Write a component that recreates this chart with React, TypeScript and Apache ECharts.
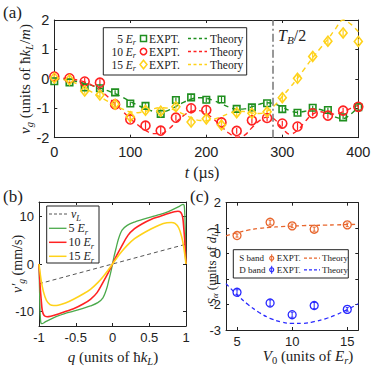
import React, { useEffect, useRef } from 'react';
import * as echarts from 'echarts';

// ---------- Panel (a): group velocity vs time ----------
const tExpt = [0, 20, 40, 60, 80, 100, 120, 140, 160, 180, 200, 220, 240, 260, 280, 300, 320, 340, 360, 380, 400];
const expt5 = [-0.08, -0.12, -0.29, -0.32, -0.46, -0.84, -0.92, -1.19, -0.72, -0.63, -0.71, -0.70, -1.02, -0.97, -0.83, -1.03, -1.15, -0.98, -1.06, -1.31, -0.96];
const err5 = [0.06, 0.07, 0.07, 0.08, 0.07, 0.07, 0.09, 0.06, 0.09, 0.12, 0.08, 0.12, 0.07, 0.09, 0.07, 0.1, 0.07, 0.07, 0.08, 0.06, 0.08];
const expt10 = [0.08, 0.02, -0.09, -0.13, -0.87, -1.38, -1.59, -1.76, -1.32, -1.0, -1.06, -1.48, -1.77, -1.41, -1.33, -1.52, -1.62, -1.17, -1.25, -1.08, -0.95];
const err10 = [0.1, 0.17, 0.12, 0.12, 0.1, 0.12, 0.12, 0.12, 0.1, 0.14, 0.16, 0.12, 0.1, 0.12, 0.12, 0.1, 0.12, 0.1, 0.1, 0.1, 0.1];
const expt15 = [0.03, -0.03, -0.41, -0.55, -0.86, -1.29, -1.07, -1.1, -0.95, -1.47, -1.36, -1.57, -1.15, -1.17, -1.12, -0.64, 0.02, 0.76, 1.28, 1.56, 1.27];
const err15 = [0.1, 0.12, 0.1, 0.12, 0.1, 0.12, 0.12, 0.12, 0.12, 0.12, 0.12, 0.14, 0.12, 0.12, 0.12, 0.14, 0.12, 0.12, 0.12, 0.12, 0.1];

const tTheory = [0, 10, 20, 30, 40, 50, 60, 70, 80, 90, 100, 110, 120, 130, 140, 150, 160, 170, 180, 190, 200, 210, 220, 230, 240, 250, 260, 270, 280, 290, 300, 310, 320, 330, 340, 350, 360, 370, 380, 390, 400];
const theory5 = [0, -0.01, -0.04, -0.09, -0.16, -0.23, -0.31, -0.4, -0.5, -0.63, -0.77, -0.9, -1.01, -1.1, -1.13, -1.07, -0.94, -0.8, -0.69, -0.64, -0.66, -0.74, -0.85, -0.96, -1.03, -1.02, -0.95, -0.86, -0.81, -0.85, -0.96, -1.08, -1.14, -1.1, -1.02, -1.04, -1.15, -1.3, -1.35, -1.2, -0.95];
const theory10 = [0.02, 0.02, 0.0, -0.04, -0.11, -0.22, -0.38, -0.6, -0.85, -1.1, -1.35, -1.57, -1.75, -1.86, -1.86, -1.72, -1.48, -1.25, -1.11, -1.08, -1.18, -1.38, -1.62, -1.85, -1.98, -1.92, -1.66, -1.42, -1.3, -1.38, -1.68, -1.88, -1.75, -1.45, -1.2, -1.12, -1.17, -1.2, -1.12, -1.0, -0.9];
const theory15 = [0, -0.02, -0.07, -0.17, -0.31, -0.46, -0.61, -0.76, -0.9, -1.03, -1.12, -1.15, -1.1, -1.02, -0.98, -1.0, -1.08, -1.2, -1.32, -1.41, -1.42, -1.37, -1.28, -1.17, -1.1, -1.11, -1.16, -1.18, -1.1, -0.9, -0.6, -0.3, 0.02, 0.37, 0.72, 1.04, 1.35, 1.7, 2.0, 1.86, 1.6];
const halfBlochTime = 287;

// ---------- Panel (b): v'_g vs q ----------
const qLine = [-1, 1];
const vLine = [-4.15, 4.15];
const q5 = [-1, -0.993, -0.985, -0.975, -0.96, -0.92, -0.86, -0.76, -0.65, -0.53, -0.4, -0.3, -0.2, -0.13, -0.08, -0.05, -0.02, 0, 0.02, 0.05, 0.08, 0.13, 0.2, 0.3, 0.4, 0.53, 0.65, 0.76, 0.86, 0.92, 0.96, 0.975, 0.985, 0.993, 1];
const v5 = [0, -5.0, -10.0, -12.3, -12.5, -12.2, -11.7, -11.0, -10.4, -9.9, -9.3, -8.8, -8.1, -7.1, -5.2, -3.4, -1.5, 0, 1.5, 3.4, 5.2, 7.1, 8.1, 8.8, 9.3, 9.9, 10.4, 11.0, 11.7, 12.2, 12.5, 12.3, 10.0, 5.0, 0];
const q10 = [-1, -0.995, -0.985, -0.97, -0.955, -0.93, -0.89, -0.84, -0.76, -0.65, -0.53, -0.4, -0.3, -0.21, -0.12, -0.05, 0, 0.05, 0.12, 0.21, 0.3, 0.4, 0.53, 0.65, 0.76, 0.84, 0.89, 0.93, 0.955, 0.97, 0.985, 0.995, 1];
const v10 = [0, -1.5, -4.5, -7.5, -9.8, -10.8, -11.05, -10.95, -10.6, -10.0, -9.4, -8.4, -7.4, -6.0, -3.6, -1.6, 0, 1.6, 3.6, 6.0, 7.4, 8.4, 9.4, 10.0, 10.6, 10.95, 11.05, 10.8, 9.8, 7.5, 4.5, 1.5, 0];
const q15 = [-1, -0.97, -0.94, -0.9, -0.85, -0.8, -0.74, -0.64, -0.53, -0.4, -0.3, -0.2, -0.12, -0.06, 0, 0.06, 0.12, 0.2, 0.3, 0.4, 0.53, 0.64, 0.74, 0.8, 0.85, 0.9, 0.94, 0.97, 1];
const v15 = [0, -3.5, -5.8, -7.6, -8.5, -8.7, -8.65, -8.2, -7.4, -6.3, -5.3, -3.9, -2.5, -1.3, 0, 1.3, 2.5, 3.9, 5.3, 6.3, 7.4, 8.2, 8.65, 8.7, 8.5, 7.6, 5.8, 3.5, 0];
const vgTicks = [-10, 0, 10];

// ---------- Panel (c): S_alpha vs V0 ----------
const v0Expt = [5, 8, 10, 12, 15];
const sBand = [0.71, 1.23, 1.09, 0.96, 1.13];
const sErr = [0.06, 0.08, 0.07, 0.08, 0.07];
const dBand = [-1.52, -1.94, -2.4, -2.04, -2.19];
const dErr = [0.1, 0.12, 0.1, 0.12, 0.07];
const v0Theory = [4, 5, 6, 7, 8, 9, 10, 11, 12, 13, 14, 15, 16];
const sTheory = [0.7, 0.82, 0.92, 0.99, 1.03, 1.06, 1.08, 1.1, 1.11, 1.12, 1.13, 1.14, 1.15];
const dTheory = [-1.18, -1.62, -2.0, -2.31, -2.54, -2.68, -2.74, -2.74, -2.67, -2.56, -2.4, -2.2, -1.97];
const v0Ticks = [5, 10, 15];

const SERIF = "'Liberation Serif','Times New Roman',serif";
const SANS = "'Liberation Sans',Arial,Helvetica,sans-serif";
const INK = '#222';
const GREEN = '#1f8f1f';
const RED = '#ff2222';
const YELLOW = '#ffd21a';
const GREEN_B = '#4caa4c';
const ORANGE = '#e8672e';
const BLUE = '#2a2aff';

// axis indices: panel (a) -> 0, (b) -> 2, (c) -> 4 (odd indices are the mirrored box axes)
const AX_A = 0;
const AX_B = 2;
const AX_C = 4;

function rich(fs: number) {
  const sub = fs * 0.7;
  return {
    r: { fontFamily: SERIF, fontSize: fs, lineHeight: fs + 4, fill: INK },
    i: { fontFamily: SERIF, fontStyle: 'italic', fontSize: fs, lineHeight: fs + 4, fill: INK },
    s: { fontFamily: SERIF, fontStyle: 'italic', fontSize: sub, lineHeight: sub, verticalAlign: 'bottom', fill: INK },
    n: { fontFamily: SERIF, fontSize: sub, lineHeight: sub, verticalAlign: 'bottom', fill: INK },
  };
}

function txt(x: number, y: number, text: string, fs: number, align = 'left', rot = 0) {
  return {
    type: 'text', x, y, rotation: rot, silent: true, z: 100,
    style: { text, fontFamily: SERIF, fontSize: fs, lineHeight: fs + 4, fill: INK, align, verticalAlign: 'middle', rich: rich(fs) },
  };
}

function hline(x1: number, x2: number, y: number, color: string, dash: number[] | null, lw = 1.3) {
  return {
    type: 'line', silent: true, z: 100,
    shape: { x1, y1: y, x2, y2: y },
    style: { stroke: color, lineWidth: lw, lineDash: dash || undefined },
  };
}

function axisX(gridIndex: number, min: number, max: number, opts: any, top = false) {
  return {
    type: 'value', gridIndex, min, max, position: top ? 'top' : 'bottom',
    ...(opts.interval ? { interval: opts.interval } : {}),
    axisLine: { show: true, onZero: false, lineStyle: { color: INK, width: 1 } },
    axisTick: { show: true, inside: true, length: 3, lineStyle: { color: INK }, ...(opts.custom ? { customValues: opts.custom } : {}) },
    axisLabel: top ? { show: false } : {
      show: true, fontFamily: SANS, fontSize: opts.fs, color: INK, margin: opts.margin,
      ...(opts.custom ? { customValues: opts.custom } : {}),
    },
    splitLine: { show: false },
  };
}

function axisY(gridIndex: number, min: number, max: number, opts: any, right = false) {
  return {
    type: 'value', gridIndex, min, max, position: right ? 'right' : 'left',
    ...(opts.interval ? { interval: opts.interval } : {}),
    axisLine: { show: true, onZero: false, lineStyle: { color: INK, width: 1 } },
    axisTick: { show: true, inside: true, length: 3, lineStyle: { color: INK }, ...(opts.custom ? { customValues: opts.custom } : {}) },
    axisLabel: right ? { show: false } : {
      show: true, fontFamily: SANS, fontSize: opts.fs, color: INK, margin: opts.margin,
      ...(opts.custom ? { customValues: opts.custom } : {}),
    },
    splitLine: { show: false },
  };
}

function errSeries(ax: number, xs: number[], ys: number[], es: number[], color: string, cap: number, lw: number) {
  return {
    type: 'custom', xAxisIndex: ax, yAxisIndex: ax, coordinateSystem: 'cartesian2d', silent: true, z: 3,
    data: xs.map((x, i) => [x, ys[i], es[i]]),
    encode: { x: 0, y: 1 },
    renderItem: (_p: any, api: any) => {
      const x = api.value(0), y = api.value(1), e = api.value(2);
      const a = api.coord([x, y + e]);
      const b = api.coord([x, y - e]);
      const children: any[] = [
        { type: 'line', shape: { x1: a[0], y1: a[1], x2: b[0], y2: b[1] }, style: { stroke: color, lineWidth: lw } },
      ];
      if (cap > 0) {
        children.push({ type: 'line', shape: { x1: a[0] - cap, y1: a[1], x2: a[0] + cap, y2: a[1] }, style: { stroke: color, lineWidth: lw } });
        children.push({ type: 'line', shape: { x1: b[0] - cap, y1: b[1], x2: b[0] + cap, y2: b[1] }, style: { stroke: color, lineWidth: lw } });
      }
      return { type: 'group', children };
    },
  };
}

function scatter(ax: number, xs: number[], ys: number[], symbol: string, size: any, color: string, lw: number) {
  return {
    type: 'scatter', xAxisIndex: ax, yAxisIndex: ax, clip: false, z: 4, silent: true,
    data: xs.map((x, i) => [x, ys[i]]),
    symbol, symbolSize: size,
    itemStyle: { color: 'rgba(255,255,255,0)', borderColor: color, borderWidth: lw, opacity: 1 },
  };
}

function curve(ax: number, xs: number[], ys: number[], color: string, dash: any, lw: number, smooth: any, extra: any = {}) {
  return {
    type: 'line', xAxisIndex: ax, yAxisIndex: ax, silent: true, z: 2,
    data: xs.map((x, i) => [x, ys[i]]),
    symbol: 'none', showSymbol: false, smooth, clip: true,
    lineStyle: { color, width: lw, type: dash },
    ...extra,
  };
}

export default function App() {
  const ref = useRef<HTMLDivElement>(null);
  useEffect(() => {
    if (!ref.current) return;
    const chart = echarts.init(ref.current, null, { renderer: 'svg' });

    const gA = { left: 54.3, top: 20, width: 304, height: 117.7 };
    const gB = { left: 39, top: 202, width: 147, height: 124 };
    const gC = { left: 226, top: 202.7, width: 132.3, height: 127.3 };

    const rowsA = [38.5, 51.5, 64.5];
    const rowsB = [214, 228.3, 242.3, 256.3];
    const rowsC = [258.2, 269.8];

    const graphic: any[] = [
      // panel letters
      txt(3, 12, '{r|(a)}', 17),
      txt(3, 196, '{r|(b)}', 17),
      txt(190, 196, '{r|(c)}', 17),
      // axis titles
      txt(202, 172, '{i|t}{r| (µs)}', 16, 'center'),
      txt(25, 79, '{i|v}{s|g}{r| (units of ħ}{i|k}{s|L}{r|/}{i|m}{r|)}', 15, 'center', Math.PI / 2),
      txt(113, 357, '{i|q}{r| (units of ħ}{i|k}{s|L}{r|)}', 15, 'center'),
      txt(17, 264, '{i|v′}{s|g}{r| (mm/s)}', 14, 'center', Math.PI / 2),
      txt(308, 356, '{i|V}{n|0}{r| (units of }{i|E}{s|r}{r|)}', 15, 'center'),
      txt(211, 266, '{i|S}{s|α}{r| (units of }{i|d}{s|L}{r|)}', 13, 'center', Math.PI / 2),
      txt(278, 35, '{i|T}{s|B}{r|/2}', 16),
      // legend (a)
      { type: 'rect', silent: true, z: 90, shape: { x: 103.3, y: 27.7, width: 143.4, height: 47.3 }, style: { fill: '#fff', stroke: INK, lineWidth: 1 } },
      txt(136, rowsA[0], '{r|5 }{i|E}{s|r}', 11.5, 'right'),
      txt(136, rowsA[1], '{r|10 }{i|E}{s|r}', 11.5, 'right'),
      txt(136, rowsA[2], '{r|15 }{i|E}{s|r}', 11.5, 'right'),
      { type: 'rect', silent: true, z: 100, shape: { x: 140.5, y: rowsA[0] - 3, width: 6, height: 6 }, style: { fill: 'none', stroke: GREEN, lineWidth: 1.5 } },
      { type: 'circle', silent: true, z: 100, shape: { cx: 143.5, cy: rowsA[1], r: 3.2 }, style: { fill: 'none', stroke: RED, lineWidth: 1.5 } },
      { type: 'polygon', silent: true, z: 100, shape: { points: [[143.5, rowsA[2] - 4.3], [147, rowsA[2]], [143.5, rowsA[2] + 4.3], [140, rowsA[2]]] }, style: { fill: 'none', stroke: YELLOW, lineWidth: 1.5 } },
      txt(149, rowsA[0], '{r|EXPT.}', 11.5),
      txt(149, rowsA[1], '{r|EXPT.}', 11.5),
      txt(149, rowsA[2], '{r|EXPT.}', 11.5),
      hline(188, 207, rowsA[0], GREEN, [3, 2.5]),
      hline(188, 207, rowsA[1], RED, [3, 2.5]),
      hline(188, 207, rowsA[2], YELLOW, [3, 2.5]),
      txt(210, rowsA[0], '{r|Theory}', 11.5),
      txt(210, rowsA[1], '{r|Theory}', 11.5),
      txt(210, rowsA[2], '{r|Theory}', 11.5),
      // legend (b)
      { type: 'rect', silent: true, z: 90, shape: { x: 46.7, y: 206, width: 52.3, height: 57 }, style: { fill: '#fff', stroke: INK, lineWidth: 1 } },
      hline(49, 67, rowsB[0], '#555', [3, 2], 1),
      hline(49, 66.5, rowsB[1], GREEN_B, null, 1.3),
      hline(49, 66.5, rowsB[2], RED, null, 1.5),
      hline(49, 66.5, rowsB[3], YELLOW, null, 1.5),
      txt(71, rowsB[0], '{i|v}{s|L}', 12),
      txt(68.5, rowsB[1], '{r|5 }{i|E}{s|r}', 12),
      txt(68.5, rowsB[2], '{r|10 }{i|E}{s|r}', 12),
      txt(68.5, rowsB[3], '{r|15 }{i|E}{s|r}', 12),
      // legend (c)
      { type: 'rect', silent: true, z: 90, shape: { x: 233.3, y: 249.7, width: 115, height: 28.3 }, style: { fill: '#fff', stroke: INK, lineWidth: 1 } },
      txt(239.3, rowsC[0], '{r|S band}', 9),
      txt(239.3, rowsC[1], '{r|D band}', 9),
      { type: 'line', silent: true, z: 100, shape: { x1: 271.7, y1: rowsC[0] - 4, x2: 271.7, y2: rowsC[0] + 4 }, style: { stroke: ORANGE, lineWidth: 1 } },
      { type: 'circle', silent: true, z: 100, shape: { cx: 271.7, cy: rowsC[0], r: 2 }, style: { fill: 'none', stroke: ORANGE, lineWidth: 1.2 } },
      { type: 'line', silent: true, z: 100, shape: { x1: 271.7, y1: rowsC[1] - 4, x2: 271.7, y2: rowsC[1] + 4 }, style: { stroke: BLUE, lineWidth: 1 } },
      { type: 'circle', silent: true, z: 100, shape: { cx: 271.7, cy: rowsC[1], r: 2 }, style: { fill: 'none', stroke: BLUE, lineWidth: 1.2 } },
      txt(276.7, rowsC[0], '{r|EXPT.}', 9),
      txt(276.7, rowsC[1], '{r|EXPT.}', 9),
      hline(304, 320, rowsC[0], ORANGE, [3, 2], 1.2),
      hline(304, 320, rowsC[1], BLUE, [3, 2], 1.2),
      txt(322, rowsC[0], '{r|Theory}', 9),
      txt(322, rowsC[1], '{r|Theory}', 9),
    ];

    const option: any = {
      animation: false,
      backgroundColor: '#fff',
      textStyle: { fontFamily: SANS },
      grid: [
        { ...gA, outerBoundsMode: 'none' },
        { ...gB, outerBoundsMode: 'none' },
        { ...gC, outerBoundsMode: 'none' },
      ],
      xAxis: [
        axisX(0, 0, 400, { interval: 100, fs: 14.5, margin: 7 }),
        axisX(0, 0, 400, { interval: 100 }, true),
        axisX(1, -1, 1, { interval: 0.5, fs: 13, margin: 5 }),
        axisX(1, -1, 1, { interval: 0.5 }, true),
        axisX(2, 4, 16, { custom: v0Ticks, fs: 13, margin: 5 }),
        axisX(2, 4, 16, { custom: v0Ticks }, true),
      ],
      yAxis: [
        axisY(0, -2, 2, { interval: 1, fs: 14.5, margin: 5 }),
        axisY(0, -2, 2, { interval: 1 }, true),
        axisY(1, -13, 13, { custom: vgTicks, fs: 13, margin: 5 }),
        axisY(1, -13, 13, { custom: vgTicks }, true),
        axisY(2, -3, 2, { interval: 1, fs: 13, margin: 5 }),
        axisY(2, -3, 2, { interval: 1 }, true),
      ],
      graphic,
      series: [
        // panel (a)
        curve(AX_A, tTheory, theory5, GREEN, [5, 4], 1.4, 0.4, {
          markLine: {
            silent: true, symbol: 'none', label: { show: false },
            lineStyle: { color: '#777', type: [8, 3, 2, 3], width: 1.5 },
            data: [{ xAxis: halfBlochTime }],
          },
        }),
        curve(AX_A, tTheory, theory10, RED, [5, 4], 1.4, 0.4),
        curve(AX_A, tTheory, theory15, YELLOW, [5, 4], 1.4, 0.4),
        errSeries(AX_A, tExpt, expt5, err5, GREEN, 0, 1.2),
        errSeries(AX_A, tExpt, expt10, err10, RED, 0, 1.2),
        errSeries(AX_A, tExpt, expt15, err15, YELLOW, 0, 1.2),
        scatter(AX_A, tExpt, expt5, 'rect', 6.5, GREEN, 1.6),
        scatter(AX_A, tExpt, expt10, 'circle', 9, RED, 1.6),
        scatter(AX_A, tExpt, expt15, 'diamond', [8, 10], YELLOW, 1.6),
        // panel (b)
        curve(AX_B, qLine, vLine, '#555', [4, 3], 1, false),
        curve(AX_B, q5, v5, GREEN_B, 'solid', 1.3, 0.3),
        curve(AX_B, q10, v10, RED, 'solid', 1.6, 0.3),
        curve(AX_B, q15, v15, YELLOW, 'solid', 1.6, 0.3),
        // panel (c)
        curve(AX_C, v0Theory, sTheory, ORANGE, [4, 3], 1.3, 0.4),
        curve(AX_C, v0Theory, dTheory, BLUE, [4, 3], 1.3, 0.4),
        errSeries(AX_C, v0Expt, sBand, sErr, ORANGE, 1.5, 1),
        errSeries(AX_C, v0Expt, dBand, dErr, BLUE, 1.5, 1),
        scatter(AX_C, v0Expt, sBand, 'circle', 8, ORANGE, 1.3),
        scatter(AX_C, v0Expt, dBand, 'circle', 8, BLUE, 1.3),
      ],
    };
    chart.setOption(option);
    return () => chart.dispose();
  }, []);

  return (
    <div
      ref={ref}
      style={{ position: 'absolute', left: 0, top: 0, width: 374, height: 366, background: '#fff' }}
    />
  );
}
